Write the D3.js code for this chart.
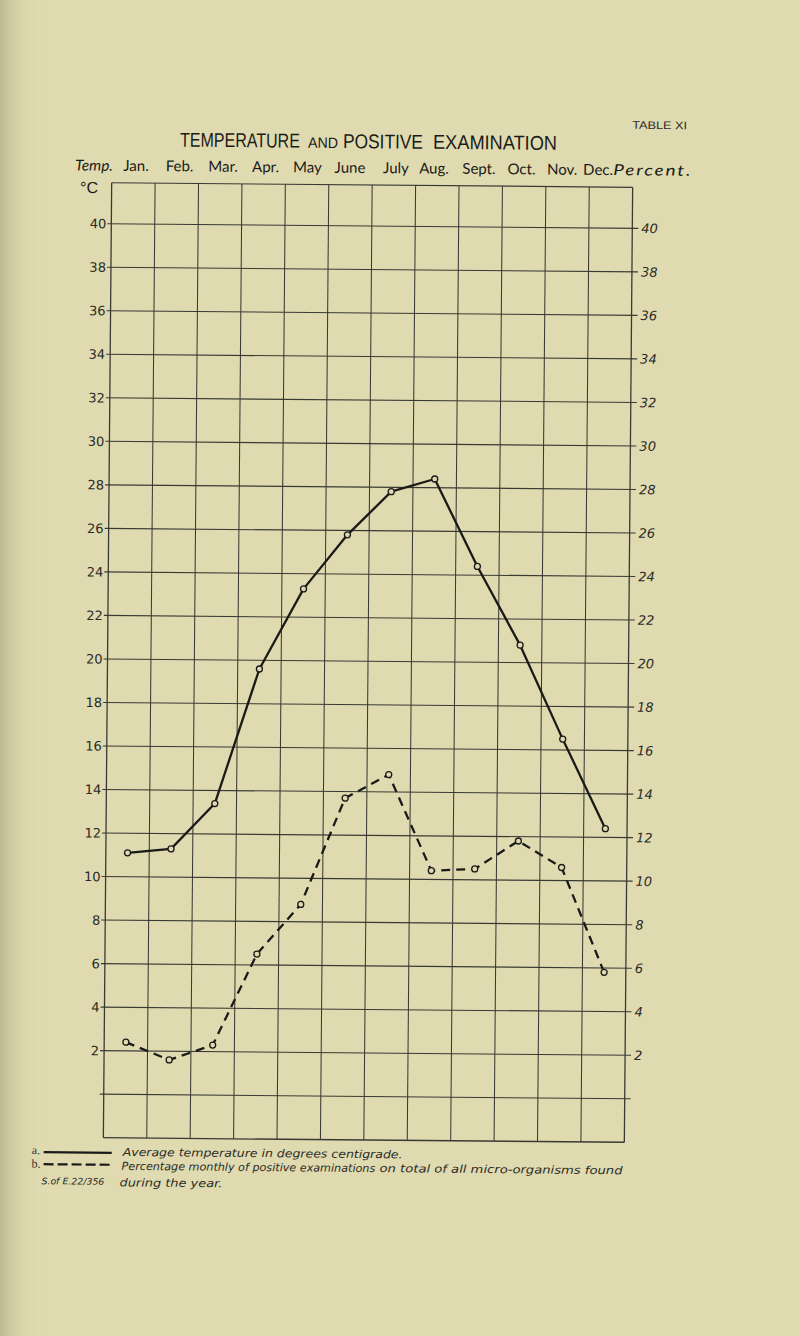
<!DOCTYPE html>
<html>
<head>
<meta charset="utf-8">
<script src="https://cdn.jsdelivr.net/npm/d3@7"></script>
<style>
html,body{margin:0;padding:0;background:#e0dab0;}
svg{display:block;}
</style>
</head>
<body>
<svg id="chart" width="800" height="1336"></svg>
<script>
// ---- data ----
const months = ["Jan.","Feb.","Mar.","Apr.","May","June","July","Aug.","Sept.","Oct.","Nov.","Dec."];
const temperature = [11.1, 11.3, 13.4, 19.6, 23.3, 25.8, 27.8, 28.4, 24.4, 20.8, 16.5, 12.4];
const percent = [2.4, 1.6, 2.3, 6.5, 8.8, 13.7, 14.8, 10.4, 10.5, 11.8, 10.6, 5.8];
const leftTicks = [40,38,36,34,32,30,28,26,24,22,20,18,16,14,12,10,8,6,4,2];
const rightTicks = [40,38,36,34,32,30,28,26,24,22,20,18,16,14,12,10,8,6,4,2];
const gridValues = [40,38,36,34,32,30,28,26,24,22,20,18,16,14,12,10,8,6,4,2,0];
const titleWords = ["TEMPERATURE","AND","POSITIVE","EXAMINATION"];
const legendA = "Average temperature in degrees centigrade.";
const legendB1a = "Percentage monthly of positive examinations";
const legendB1b = "on total of all micro-organisms found";
const legendB2 = "during the year.";

// ---- layout ----
const paper = "#e0dab0";
const ink = "#1a1a18";
const gridInk = "#3a3a34";
const X0 = 107.5, X1 = 628.5, YTOP = 185;
const labelNudge = [2.5,2.6,2.7,1.8,0.3,-0.6,2,-3.4,-1.9,-2.8,-5.5,-13];
const titleLayout = [[175.5,120,20],[303.5,30,15],[338.5,80,20],[428.5,124,20]]; // x, width, size

const svg = d3.select("#chart");
const defs = svg.append("defs");
const grad = defs.append("linearGradient").attr("id","edge").attr("x1","0").attr("x2","1").attr("y1","0").attr("y2","0");
grad.append("stop").attr("offset","0").attr("stop-color","#a8a47c").attr("stop-opacity",0.6);
grad.append("stop").attr("offset","0.5").attr("stop-color","#c9c49a").attr("stop-opacity",0.25);
grad.append("stop").attr("offset","1").attr("stop-color",paper).attr("stop-opacity",0);

svg.append("rect").attr("width",800).attr("height",1336).attr("fill",paper);
svg.append("rect").attr("width",45).attr("height",1336).attr("fill","url(#edge)");

const g = svg.append("g").attr("transform","rotate(0.5,368,663)");

// place a text so that it spans exactly `width` px horizontally
function fit(sel, x0, y0, width) {
  const w = sel.node().getComputedTextLength();
  sel.attr("x", 0).attr("y", 0).attr("transform", `translate(${x0},${y0}) scale(${width / w},1)`);
  return sel;
}

const x = d3.scaleBand().domain(months).range([X0, X1]).paddingInner(0).paddingOuter(0);
const xc = m => x(m) + x.bandwidth()/2;
const y = d3.scaleLinear().domain([-2, 40]).range([1140, 226]);

// grid
g.append("g").selectAll("line").data(gridValues).join("line")
  .attr("x1", X0 - 4).attr("x2", X1 + 6)
  .attr("y1", d => y(d)).attr("y2", d => y(d))
  .attr("stroke", gridInk).attr("stroke-width", 1.1);
g.append("line").attr("x1",X0).attr("x2",X1).attr("y1",YTOP).attr("y2",YTOP).attr("stroke",gridInk).attr("stroke-width",1.2);
g.append("line").attr("x1",X0).attr("x2",X1).attr("y1",y(-2)).attr("y2",y(-2)).attr("stroke",gridInk).attr("stroke-width",1.3);
const vpos = months.map(m => x(m)).concat([X1]);
g.append("g").selectAll("line").data(vpos).join("line")
  .attr("x1", d => d).attr("x2", d => d)
  .attr("y1", YTOP).attr("y2", y(-2))
  .attr("stroke", gridInk).attr("stroke-width", (d,i) => (i===0||i===vpos.length-1)?1.3:1.05);

// axes labels
const leftAxis = d3.axisLeft(y).tickValues(leftTicks).tickSize(0).tickPadding(4).tickFormat(d3.format("d"));
const la = g.append("g").attr("transform",`translate(${X0-1},0)`).call(leftAxis);
la.select(".domain").remove();
la.selectAll("text").attr("font-family","'DejaVu Sans', sans-serif").attr("font-size",13).attr("fill","#2a2a26");

const rightAxis = d3.axisRight(y).tickValues(rightTicks).tickSize(0).tickPadding(9).tickFormat(d3.format("d"));
const ra = g.append("g").attr("transform",`translate(${X1},0)`).call(rightAxis);
ra.select(".domain").remove();
ra.selectAll("text").attr("font-family","'DejaVu Sans', sans-serif").attr("font-style","italic").attr("font-size",13).attr("fill","#2a2a26");

// title (AND in small caps)
titleWords.forEach((w, i) => {
  const t = g.append("text")
    .attr("font-family","'Liberation Sans Narrow','Liberation Sans',sans-serif")
    .attr("font-size", titleLayout[i][2]).attr("fill", ink).text(w);
  fit(t, titleLayout[i][0], 148.3, titleLayout[i][1]);
});

fit(g.append("text").attr("font-family","'Liberation Sans',sans-serif")
  .attr("font-size",11).attr("fill","#2a2a26").text("TABLE XI"), 627.5, 126.5, 55);

// header row
g.append("g").selectAll("text").data(months).join("text")
  .attr("x", (d,i) => xc(d) + labelNudge[i])
  .attr("y", 173)
  .attr("text-anchor","middle")
  .attr("font-family","Lato, sans-serif").attr("font-size",15).attr("fill",ink)
  .text(d => d);
fit(g.append("text").attr("font-family","Lato, sans-serif").attr("font-style","italic")
  .attr("font-size",15).attr("fill",ink).text("Temp."), 70.7, 173, 38);
fit(g.append("text").attr("font-family","Lato, sans-serif").attr("font-style","italic")
  .attr("font-size",15).attr("fill",ink).attr("letter-spacing",1.5).text("Percent."), 609, 173, 79);
g.append("text").attr("x",76).attr("y",195.5).attr("font-family","'Liberation Sans',sans-serif")
  .attr("font-size",16).attr("fill",ink).text("°C");

// series lines
const line = d3.line().x((d,i) => xc(months[i])).y(d => y(d));
g.append("path").datum(percent).attr("d", line).attr("fill","none")
  .attr("stroke", ink).attr("stroke-width", 2.3).attr("stroke-dasharray","9,6");
g.append("path").datum(temperature).attr("d", line).attr("fill","none")
  .attr("stroke", ink).attr("stroke-width", 2.3).attr("stroke-linejoin","round");

// markers
[temperature, percent].forEach(series => {
  g.append("g").selectAll("circle").data(series).join("circle")
    .attr("cx", (d,i) => xc(months[i])).attr("cy", d => y(d)).attr("r", 3)
    .attr("fill", paper).attr("stroke", ink).attr("stroke-width", 1.3);
});

// legend
const lf = "'DejaVu Sans', sans-serif";
g.append("text").attr("x",36).attr("y",1157).attr("font-family","'Liberation Serif',serif").attr("font-size",12).attr("fill","#333").text("a.");
g.append("line").attr("x1",48).attr("x2",116).attr("y1",1155).attr("y2",1155).attr("stroke",ink).attr("stroke-width",2.2);
fit(g.append("text").attr("font-family",lf).attr("font-style","italic").attr("font-size",11)
  .attr("fill","#2a2a26").text(legendA), 127, 1158, 280);
g.append("text").attr("x",36).attr("y",1170.5).attr("font-family","'Liberation Serif',serif").attr("font-size",12).attr("fill","#333").text("b.");
g.append("line").attr("x1",48).attr("x2",116).attr("y1",1167).attr("y2",1167).attr("stroke",ink).attr("stroke-width",2.2).attr("stroke-dasharray","10,4");
fit(g.append("text").attr("font-family",lf).attr("font-style","italic").attr("font-size",11)
  .attr("fill","#2a2a26").text(legendB1a), 126, 1172, 254);
fit(g.append("text").attr("font-family",lf).attr("font-style","italic").attr("font-size",11)
  .attr("fill","#2a2a26").text(legendB1b), 384, 1172, 243);
fit(g.append("text").attr("font-family",lf).attr("font-style","italic").attr("font-size",9)
  .attr("fill","#2a2a26").text("S.of E.22/356"), 46, 1187, 63);
fit(g.append("text").attr("font-family",lf).attr("font-style","italic").attr("font-size",11)
  .attr("fill","#2a2a26").text(legendB2), 124, 1188.5, 103);
</script>
</body>
</html>
